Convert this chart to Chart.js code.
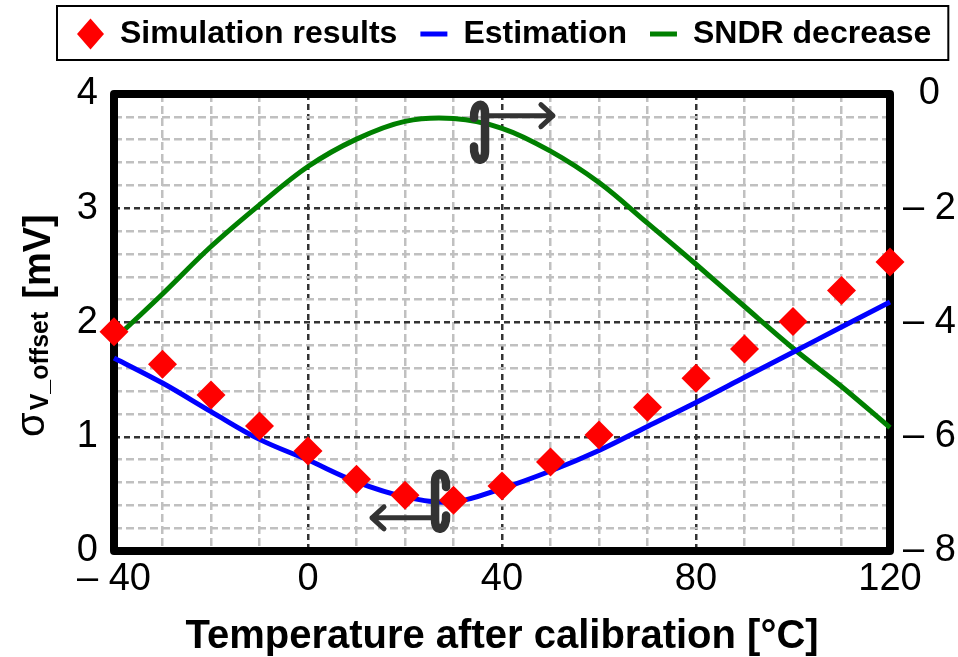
<!DOCTYPE html>
<html>
<head>
<meta charset="utf-8">
<script src="https://cdn.jsdelivr.net/npm/chart.js@4.4.1/dist/chart.umd.min.js"></script>
<style>
  html, body { margin: 0; padding: 0; background: #fff; }
  #wrap { width: 958px; height: 657px; }
</style>
</head>
<body>
<div id="wrap"><canvas id="chart" width="958" height="657"></canvas></div>
<script>
// temperature after calibration, degC
const temps = [-40, -30, -20, -10, 0, 10, 20, 30, 40, 50, 60, 70, 80, 90, 100, 110, 120];
// sigma of offset voltage, mV (left axis)
const simulation = [1.92, 1.635, 1.366, 1.094, 0.875, 0.629, 0.489, 0.445, 0.57, 0.78, 1.015, 1.258, 1.512, 1.767, 2.009, 2.28, 2.53];
const estimation = [1.69, 1.47, 1.22, 0.977, 0.796, 0.605, 0.474, 0.43, 0.547, 0.70, 0.88, 1.09, 1.30, 1.52, 1.74, 1.96, 2.18];
// SNDR decrease, dB (right axis)
const sndrDecrease = [-4.3, -3.5, -2.67, -1.94, -1.27, -0.79, -0.48, -0.43, -0.6, -1.0, -1.55, -2.26, -2.98, -3.72, -4.45, -5.12, -5.84];

const xLabelled = [-40, 0, 40, 80, 120];
const leftLabelled = [0, 1, 2, 3, 4];
const rightLabelled = [-8, -6, -4, -2, 0];

const FONT = "'Liberation Sans', Arial, sans-serif";
Chart.defaults.font.family = FONT;
Chart.defaults.color = '#000';

const signed = v => (v < 0 ? '\u2013 ' + Math.abs(v) : String(v));
const near = (v, list) => list.some(t => Math.abs(t - v) < 1e-6);

const gridColor = list => c => near(c.tick.value, list) ? '#333333' : '#c0c0c0';
const gridDash = list => c => near(c.tick.value, list) ? [6, 4] : [8, 4];

// thick frame round the plot area
const framePlugin = {
  id: 'frame',
  beforeDatasetsDraw(chart) {
    const { ctx, chartArea: a } = chart;
    ctx.save();
    ctx.lineWidth = 8;
    ctx.lineJoin = 'round';
    ctx.strokeStyle = '#000';
    ctx.strokeRect(a.left, a.top, a.right - a.left, a.bottom - a.top);
    ctx.restore();
  }
};

// curled brackets with arrows telling which axis a curve belongs to
const axisArrows = {
  id: 'axisArrows',
  afterDatasetsDraw(chart) {
    const { ctx, scales } = chart;
    const px = v => scales.x.getPixelForValue(v);
    const py = v => scales.y.getPixelForValue(v);

    const curl = (cx, top, bot, dir) => {
      ctx.beginPath();
      ctx.moveTo(cx + dir * 11, top + 16);
      ctx.bezierCurveTo(cx + dir * 12, top + 1, cx, top - 2, cx, top + 11);
      ctx.lineTo(cx, bot - 11);
      ctx.bezierCurveTo(cx, bot + 2, cx + dir * 12, bot - 1, cx + dir * 11, bot - 16);
      ctx.stroke();
    };
    const arrow = (x0, x1, y, dir) => {
      ctx.beginPath();
      ctx.moveTo(x0, y);
      ctx.lineTo(x1, y);
      ctx.moveTo(x1 - dir * 12, y - 11);
      ctx.lineTo(x1, y);
      ctx.lineTo(x1 - dir * 12, y + 11);
      ctx.stroke();
    };

    ctx.save();
    ctx.strokeStyle = '#333';
    ctx.lineCap = 'round';
    ctx.lineJoin = 'round';

    // pointing to the left axis
    let cx = px(26.2);
    ctx.lineWidth = 8.5;
    curl(cx, py(0.7), py(0.17), 1);
    ctx.lineWidth = 5;
    arrow(cx, px(13.2), py(0.29), -1);

    // pointing to the right axis
    cx = px(36.5);
    ctx.lineWidth = 8.5;
    curl(cx, py(3.93), py(3.4), -1);
    ctx.lineWidth = 5;
    arrow(cx, px(50.5), py(3.81), 1);
    ctx.restore();
  }
};

// rotated left title with the subscript, plus the legend border
const extras = {
  id: 'extras',
  afterDraw(chart) {
    const { ctx } = chart;
    ctx.save();
    ctx.fillStyle = '#000';
    ctx.translate(0, 437);
    ctx.rotate(-Math.PI / 2);
    ctx.textBaseline = 'alphabetic';
    ctx.textAlign = 'left';
    ctx.font = '40px ' + FONT;
    ctx.fillText('\u03c3', 0, 44);
    let u = ctx.measureText('\u03c3').width + 2;
    ctx.font = 'bold 25px ' + FONT;
    ctx.fillText('V_offset', u, 48);
    u += ctx.measureText('V_offset').width + 13;
    ctx.font = 'bold 38px ' + FONT;
    ctx.fillText('[mV]', u, 50);
    ctx.restore();

    const lg = chart.legend;
    const hb = lg.legendHitBoxes;
    if (hb && hb.length) {
      const last = hb[hb.length - 1];
      const l = hb[0].left - 20;
      const r = last.left + last.width + 17;
      ctx.save();
      ctx.lineWidth = 2;
      ctx.strokeStyle = '#000';
      ctx.strokeRect(l, 6, r - l, 54);
      ctx.restore();
    }
  }
};

new Chart(document.getElementById('chart'), {
  type: 'line',
  data: {
    datasets: [
      {
        label: 'Simulation results',
        data: temps.map((t, i) => ({ x: t, y: simulation[i] })),
        xAxisID: 'x',
        yAxisID: 'y',
        showLine: false,
        pointStyle: 'rectRot',
        pointRadius: 14.5,
        pointHoverRadius: 14.5,
        pointBorderWidth: 0,
        borderWidth: 0,
        backgroundColor: '#ff0000',
        borderColor: '#ff0000',
        pointBackgroundColor: '#ff0000',
        clip: false
      },
      {
        label: 'Estimation',
        data: temps.map((t, i) => ({ x: t, y: estimation[i] })),
        xAxisID: 'x',
        yAxisID: 'y',
        borderColor: '#0000ff',
        backgroundColor: '#0000ff',
        borderWidth: 5,
        pointRadius: 0,
        pointStyle: 'line',
        pointBorderColor: '#0000ff',
        pointBorderWidth: 5,
        tension: 0.35,
        clip: false
      },
      {
        label: 'SNDR decrease',
        data: temps.map((t, i) => ({ x: t, y: sndrDecrease[i] })),
        xAxisID: 'x',
        yAxisID: 'y2',
        borderColor: '#008000',
        backgroundColor: '#008000',
        borderWidth: 5,
        pointRadius: 0,
        pointStyle: 'line',
        pointBorderColor: '#008000',
        pointBorderWidth: 5,
        tension: 0.35,
        clip: false
      }
    ]
  },
  options: {
    responsive: false,
    animation: false,
    events: [],
    layout: { padding: { top: -5, left: 54, right: 0, bottom: 0 } },
    plugins: {
      tooltip: { enabled: false },
      legend: {
        position: 'top',
        align: 'start',
        labels: {
          usePointStyle: true,
          pointStyleWidth: 27,
          boxHeight: 22,
          padding: 23,
          color: '#000',
          font: { size: 32, weight: 'bold' }
        }
      }
    },
    scales: {
      x: {
        type: 'linear',
        position: 'bottom',
        min: -40,
        max: 120,
        afterFit: s => { s.height = 106; },
        ticks: {
          stepSize: 10,
          autoSkip: false,
          maxRotation: 0,
          padding: 6,
          font: { size: 38 },
          callback: v => (near(v, xLabelled) ? signed(v) : '')
        },
        grid: { color: gridColor(xLabelled), lineWidth: 2.5, drawTicks: false },
        border: { display: false, dash: gridDash(xLabelled) },
        title: {
          display: true,
          text: 'Temperature after calibration [\u00b0C]',
          font: { size: 40, weight: 'bold', lineHeight: 1 },
          padding: { top: 0, bottom: 0 }
        }
      },
      spacer: {
        type: 'linear',
        position: 'top',
        afterFit: s => { s.height = 34; },
        ticks: { display: false },
        grid: { display: false },
        border: { display: false }
      },
      y: {
        type: 'linear',
        position: 'left',
        min: 0,
        max: 4,
        afterFit: s => { s.width = 60; },
        ticks: {
          stepSize: 0.2,
          autoSkip: false,
          padding: 16,
          font: { size: 38 },
          callback: v => (near(v, leftLabelled) ? String(Math.round(v)) : '')
        },
        grid: { color: gridColor(leftLabelled), lineWidth: 2.5, drawTicks: false },
        border: { display: false, dash: gridDash(leftLabelled) }
      },
      y2: {
        type: 'linear',
        position: 'right',
        min: -8,
        max: 0,
        afterFit: s => { s.width = 68; },
        ticks: {
          stepSize: 2,
          autoSkip: false,
          padding: 13,
          crossAlign: 'center',
          font: { size: 38 },
          callback: v => (near(v, rightLabelled) ? signed(Math.round(v)) : '')
        },
        grid: { drawOnChartArea: false, drawTicks: false },
        border: { display: false }
      }
    }
  },
  plugins: [framePlugin, axisArrows, extras]
});
</script>
</body>
</html>
